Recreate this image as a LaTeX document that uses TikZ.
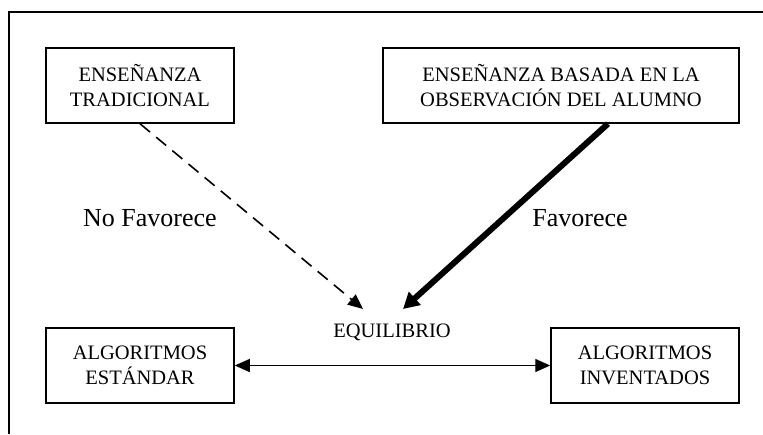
\documentclass[tikz,border=0pt]{standalone}
\usepackage{fontspec}
\setmainfont{Liberation Serif}
\usetikzlibrary{arrows.meta}

\begin{document}
\begin{tikzpicture}[x=1pt, y=-1pt, >={Triangle[length=15pt, width=13pt]},
    box/.style = {draw, line width=1.5pt, minimum width=188pt, minimum height=75pt,
      align=center, font=\fontsize{20.5}{25}\selectfont, inner sep=0pt},
    lbl/.style = {font=\fontsize{26}{30}\selectfont, inner sep=0pt}]
    \useasboundingbox (0,0) rectangle (763,434);
    % Frame
    \draw[line width=1.3pt] (763,12) -- (9,12) -- (9,434);

    % Nodes

    \node[box] (trad) at (140, 85.5) {ENSEÑANZA\\TRADICIONAL};
    \node[box, minimum width=356pt] (obs) at (561, 85.5) {ENSEÑANZA BASADA EN LA\\OBSERVACIÓN DEL ALUMNO};

    \node[box] (std) at (140, 365.5) {ALGORITMOS\\ESTÁNDAR};
    \node[box] (inv) at (645, 365.5) {ALGORITMOS\\INVENTADOS};

    \node[inner sep=0pt, font=\fontsize{20.5}{25}\selectfont] (eq) at (392, 332) {EQUILIBRIO};

    \node[lbl] (nofav) at (150, 218) {No Favorece};
    \node[lbl] (fav) at (580, 218) {Favorece};

    \coordinate (tipl) at (363, 309);
    \coordinate (tipr) at (403, 309);

    % Edges

    \draw[->, line width=1.6pt, dash pattern=on 13pt off 8pt] (trad.south) -- (tipl);
    \draw[->, line width=6pt, >={Triangle[length=16pt, width=17pt]}] ([xshift=47pt]obs.south) -- (tipr);
    \draw[<->, line width=1.3pt] (std.east) -- (inv.west);

\end{tikzpicture}
\end{document}
